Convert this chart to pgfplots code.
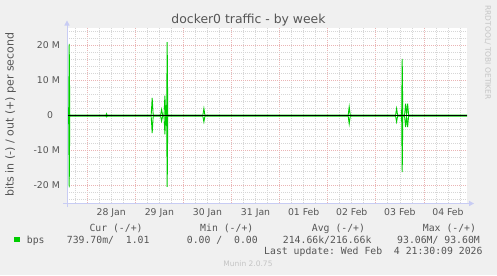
\documentclass[border=0pt]{standalone}
\usepackage{fontspec}
\setmainfont{DejaVu Sans}
\newfontfamily\mono{DejaVu Sans Mono}
\usepackage{pgfplots}
\pgfplotsset{compat=1.18}
\usetikzlibrary{arrows.meta}
\definecolor{bg}{HTML}{F0F0F0}
\definecolor{txt}{HTML}{555555}
\definecolor{grn}{HTML}{00CC00}
\definecolor{axisc}{HTML}{C8CCF4}
\definecolor{mgrid}{HTML}{EAB4B4}
\definecolor{ngrid}{HTML}{D6D6D6}
\definecolor{faint}{HTML}{C4C4C4}

\pgfplotstableread{
x y
-0.420 0.1
-0.386 0.1
-0.374 20.5
-0.362 0.1
0.393 0.1
0.403 0.5
0.413 0.1
1.330 0.1
1.351 5.0
1.372 0.1
1.527 0.1
1.547 1.7
1.567 0.1
1.598 0.1
1.615 5.7
1.632 0.1
1.651 0.1
1.663 21.0
1.675 0.1
2.405 0.1
2.426 2.0
2.447 0.1
5.426 0.1
5.447 2.5
5.468 0.1
6.411 0.1
6.432 2.0
6.453 0.1
6.537 0.1
6.549 16.2
6.561 0.1
6.598 0.1
6.619 3.4
6.640 0.1
6.661 3.4
6.682 0.1
7.896 0.1
}\outdata

\pgfplotstableread{
x y
-0.420 -0.21
-0.386 -0.21
-0.374 -20.5
-0.362 -0.21
0.393 -0.21
0.403 -0.4
0.413 -0.21
1.330 -0.21
1.351 -5.0
1.372 -0.21
1.527 -0.21
1.547 -1.6
1.567 -0.21
1.598 -0.21
1.615 -5.4
1.632 -0.21
1.651 -0.21
1.663 -20.4
1.675 -0.21
2.405 -0.21
2.426 -1.8
2.447 -0.21
5.426 -0.21
5.447 -2.4
5.468 -0.21
6.411 -0.21
6.432 -1.8
6.453 -0.21
6.537 -0.21
6.549 -16.2
6.561 -0.21
6.598 -0.21
6.619 -3.3
6.640 -0.21
6.661 -3.3
6.682 -0.21
7.896 -0.21
}\indata

\begin{document}
\begin{tikzpicture}[x=1bp,y=1bp]
\fill[bg] (0,0) rectangle (497,-275);
\begin{axis}[
  at={(67bp,-203bp)}, anchor=south west,
  width=400bp, height=175bp, scale only axis,
  xmin=-0.420, xmax=7.896, ymin=-25, ymax=25,
  axis background/.style={fill=white},
  axis line style={draw=none},
  xtick={0,1,2,3,4,5,6,7},
  xticklabels={28 Jan,29 Jan,30 Jan,31 Jan,01 Feb,02 Feb,03 Feb,04 Feb},
  minor xtick={-0.25,0.25,0.5,0.75,1.25,1.5,1.75,2.25,2.5,2.75,3.25,3.5,3.75,4.25,4.5,4.75,5.25,5.5,5.75,6.25,6.5,6.75,7.25,7.5,7.75},
  ytick={-20,-10,0,10,20},
  yticklabels={-20 M,-10 M,{0\kern6.7bp},10 M,20 M},
  minor ytick={-24,-22,-18,-16,-14,-12,-8,-6,-4,-2,2,4,6,8,12,14,16,18,22,24},
  major tick length=0pt, minor tick length=0pt,
  grid=both,
  major grid style={mgrid, dash pattern=on 1bp off 1bp, line width=0.7bp},
  minor grid style={ngrid, dash pattern=on 1bp off 1bp, line width=0.7bp},
  xticklabel style={font=\fontsize{9.3bp}{11bp}\selectfont, text=txt, inner sep=0pt, anchor=north, xshift=24.05bp, yshift=-5bp},
  yticklabel style={font=\fontsize{9.3bp}{11bp}\selectfont, text=txt, inner sep=0pt, anchor=east, xshift=-7bp},
]
\addplot[grn, line width=0.9bp] table[x=x,y=y] {\outdata};
\addplot[grn, line width=0.9bp] table[x=x,y=y] {\indata};
\addplot[black, line width=0.8bp] coordinates {(-0.420,0.15) (7.896,0.15)};
\end{axis}
% axes arrows
\draw[axisc, line width=1bp] (67,-207) -- (67,-24);
\fill[axisc] (64.3,-25.5) -- (69.7,-25.5) -- (67,-20.5) -- cycle;
\draw[axisc, line width=1bp] (63,-203.5) -- (470,-203.5);
\fill[axisc] (469,-200.8) -- (469,-206.2) -- (474,-203.5) -- cycle;
% title and labels
\node[font=\fontsize{12.4bp}{14bp}\selectfont, text=txt, anchor=base, inner sep=0pt] at (248.5,-23.3) {docker0 traffic - by week};
\node[rotate=90, font=\fontsize{11bp}{13bp}\selectfont, text=txt, inner sep=0pt] at (10.7,-114.7) {bits in (-) / out (+) per second};
\node[rotate=-90, anchor=west, font=\fontsize{7.5bp}{9bp}\selectfont, text=faint, inner sep=0pt] at (487.7,-5.3) {RRDTOOL/ TOBI OETIKER};
% legend
\begin{scope}[every node/.style={anchor=base west, inner sep=0pt, text=txt, font=\mono\fontsize{9.8bp}{11bp}\selectfont}]
\node at (89.3,-231) {Cur~(-/+)};
\node at (200,-231) {Min~(-/+)};
\node at (311.7,-231) {Avg~(-/+)};
\node at (422.7,-231) {Max~(-/+)};
\node at (26.7,-243) {bps};
\node at (66.7,-243) {739.70m/~~1.01};
\node at (186.7,-243) {0.00~/~~0.00};
\node at (282.7,-243) {214.66k/216.66k};
\node at (397,-243) {93.06M/~93.60M};
\node at (264,-254.5) {Last~update:~Wed~Feb~~4~21:30:09~2026};
\end{scope}
\fill[grn] (14,-236.5) rectangle (19.5,-242);
\node[font=\fontsize{7.5bp}{9bp}\selectfont, text=faint, anchor=base, inner sep=0pt] at (248,-266) {Munin 2.0.75};
\end{tikzpicture}
\end{document}
